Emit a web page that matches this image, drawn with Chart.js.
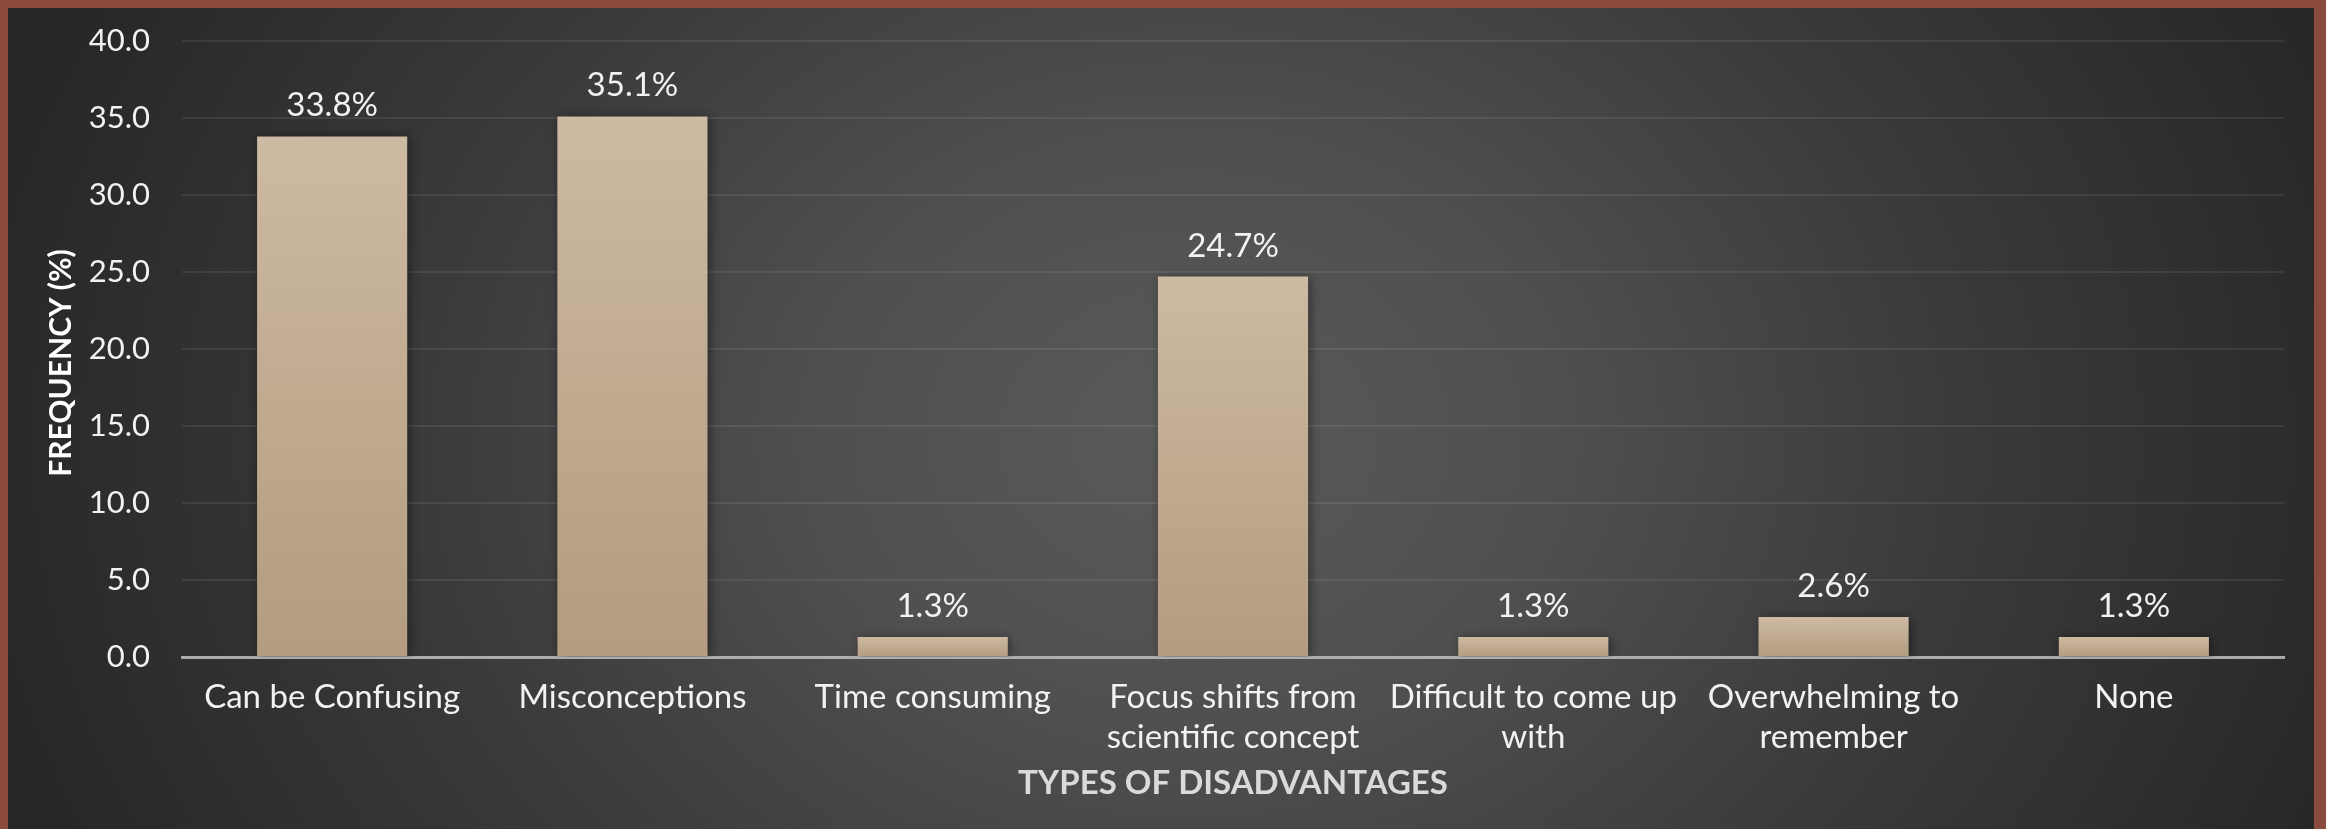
<!DOCTYPE html>
<html>
<head>
<meta charset="utf-8">
<script src="https://cdn.jsdelivr.net/npm/chart.js@4.4.1/dist/chart.umd.min.js"></script>
<style>
  html, body { margin: 0; padding: 0; }
  body { width: 2326px; height: 829px; background: #8a4a3e; position: relative; overflow: hidden; }
  #bg {
    position: absolute; left: 8px; top: 8px; width: 2306px; height: 821px;
    background: radial-gradient(ellipse 1250px 1000px at 1180px 430px, #5a5a5a 0%, #4f4f4f 30%, #3a3a3a 62%, #262626 100%);
  }
  #wrap { position: absolute; left: 0; top: 0; width: 2326px; height: 829px; }
</style>
</head>
<body>
<div id="bg"></div>
<div id="wrap"><canvas id="chart"></canvas></div>
<script>
// Data
const categories = [
    'Can be Confusing',
    'Misconceptions',
    'Time consuming',
    ['Focus shifts from', 'scientific concept'],
    ['Difficult to come up', 'with'],
    ['Overwhelming to', 'remember'],
    'None'
];
const frequency = [33.8, 35.1, 1.3, 24.7, 1.3, 2.6, 1.3];
const yTicks = [0, 5, 10, 15, 20, 25, 30, 35, 40];
const yTitle = 'FREQUENCY (%)';
const xTitle = 'TYPES OF DISADVANTAGES';

const FONT = 'Lato, "Open Sans", sans-serif';

// Gradient per bar, top lighter -> bottom darker
function barGradient(ctx) {
    const chart = ctx.chart;
    const y = chart.scales.y;
    if (!y || !ctx.parsed) return '#c2ad93';
    const top = y.getPixelForValue(ctx.parsed.y);
    const bottom = y.getPixelForValue(0);
    if (!isFinite(top) || !isFinite(bottom) || top === bottom) return '#c2ad93';
    const g = chart.ctx.createLinearGradient(0, top, 0, bottom);
    g.addColorStop(0, '#cdbaa2');
    g.addColorStop(1, '#b39c80');
    return g;
}

// Value labels over bars + axis titles
const decorPlugin = {
    id: 'decor',
    beforeDatasetsDraw(chart) {
        const ctx = chart.ctx;
        ctx.save();
        ctx.shadowColor = 'rgba(0,0,0,0.45)';
        ctx.shadowBlur = 10;
        ctx.shadowOffsetX = 2;
        ctx.shadowOffsetY = 1;
    },
    afterDatasetsDraw(chart) {
        const ctx = chart.ctx;
        ctx.restore();
        ctx.save();
        ctx.font = '33px ' + FONT;
        ctx.fillStyle = '#f2f2f2';
        ctx.textAlign = 'center';
        ctx.textBaseline = 'alphabetic';
        chart.getDatasetMeta(0).data.forEach((bar, i) => {
            ctx.fillText(frequency[i].toFixed(1) + '%', bar.x, bar.y - 20);
        });
        ctx.restore();
    },
    afterDraw(chart) {
        const ctx = chart.ctx;
        const area = chart.chartArea;
        ctx.save();
        ctx.font = 'bold 33px ' + FONT;
        ctx.textAlign = 'center';
        ctx.textBaseline = 'middle';
        ctx.fillStyle = '#dadada';
        ctx.fillText(xTitle, (area.left + area.right) / 2, 783);
        ctx.font = 'bold 30px ' + FONT;
        ctx.fillStyle = '#ffffff';
        ctx.translate(61, 363);
        ctx.rotate(-Math.PI / 2);
        ctx.fillText(yTitle, 0, 0);
        ctx.restore();
    }
};

const ctx = document.getElementById('chart').getContext('2d');
new Chart(ctx, {
    type: 'bar',
    data: {
        labels: categories,
        datasets: [{
            label: 'Frequency (%)',
            data: frequency,
            backgroundColor: barGradient,
            borderWidth: 0,
            categoryPercentage: 1.0,
            barPercentage: 0.5,
        }],
    },
    options: {
        responsive: true,
        maintainAspectRatio: false,
        animation: false,
        layout: { padding: { left: 0, right: 42, top: 41, bottom: 0 } },
        plugins: {
            legend: { display: false },
            tooltip: { enabled: false },
        },
        scales: {
            x: {
                z: 1,
                grid: { display: false, drawTicks: false },
                border: { display: true, color: 'rgba(190,190,190,0.85)', width: 3 },
                ticks: {
                    color: '#f2f2f2',
                    font: { family: FONT, size: 33, lineHeight: 1.22 },
                    padding: 20,
                    maxRotation: 0,
                    autoSkip: false,
                },
                afterFit: scale => { scale.height = 172; },
            },
            y: {
                min: 0,
                max: 40,
                afterBuildTicks: scale => { scale.ticks = yTicks.map(v => ({ value: v })); },
                grid: { color: 'rgba(255,255,255,0.08)', lineWidth: 2, drawTicks: false },
                border: { display: false },
                ticks: {
                    color: '#f2f2f2',
                    font: { family: FONT, size: 31 },
                    padding: 32,
                    callback: v => Number(v).toFixed(1),
                },
                afterFit: scale => {
                    scale.width = 182;
                    scale.paddingTop = 0;
                    scale.paddingBottom = 0;
                },
            },
        },
    },
    plugins: [decorPlugin],
});
</script>
</body>
</html>
